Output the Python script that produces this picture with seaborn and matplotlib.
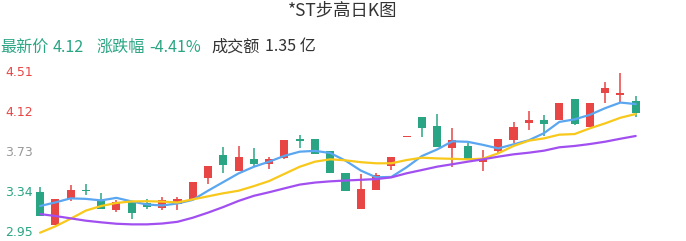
import matplotlib
matplotlib.use("Agg")
import matplotlib.pyplot as plt
import matplotlib.transforms as mtransforms
import numpy as np
import pandas as pd
import seaborn as sns

# ---- data ----
opens  = [3.34, 3.02, 3.27, 3.36, 3.25, 3.17, 3.24, 3.23, 3.19, 3.22,
          3.27, 3.48, 3.71, 3.55, 3.67, 3.62, 3.68, 3.86, 3.86, 3.74,
          3.53, 3.18, 3.36, 3.60, 3.88, 4.08, 3.99, 3.77, 3.79, 3.64,
          3.74, 3.85, 4.02, 4.05, 4.05, 4.25, 3.98, 4.31, 4.29, 4.24]
highs  = [3.39, 3.27, 3.41, 3.42, 3.33, 3.26, 3.24, 3.27, 3.29, 3.29,
          3.44, 3.60, 3.78, 3.79, 3.77, 3.69, 3.85, 3.90, 3.86, 3.74,
          3.53, 3.52, 3.53, 3.69, 3.89, 4.08, 4.11, 3.97, 3.82, 3.75,
          3.86, 4.03, 4.14, 4.10, 4.22, 4.25, 4.22, 4.42, 4.51, 4.28]
lows   = [3.11, 3.02, 3.25, 3.31, 3.18, 3.15, 3.08, 3.18, 3.17, 3.17,
          3.27, 3.42, 3.53, 3.55, 3.59, 3.57, 3.67, 3.77, 3.72, 3.53,
          3.35, 3.18, 3.36, 3.56, 3.88, 3.88, 3.78, 3.59, 3.67, 3.55,
          3.73, 3.82, 3.95, 3.89, 4.05, 4.00, 3.98, 4.22, 4.22, 4.08]
closes = [3.11, 3.27, 3.36, 3.35, 3.18, 3.24, 3.14, 3.20, 3.26, 3.27,
          3.44, 3.60, 3.61, 3.69, 3.62, 3.67, 3.85, 3.84, 3.72, 3.53,
          3.35, 3.37, 3.51, 3.69, 3.89, 3.97, 3.78, 3.85, 3.67, 3.68,
          3.86, 3.98, 4.05, 4.01, 4.22, 4.01, 4.22, 4.36, 4.31, 4.12]

ma_blue   = [3.205, 3.24, 3.28, 3.275, 3.26, 3.285, 3.25, 3.22, 3.21, 3.23,
             3.265, 3.355, 3.44, 3.525, 3.59, 3.64, 3.697, 3.738, 3.746, 3.725,
             3.65, 3.553, 3.487, 3.49, 3.585, 3.695, 3.76, 3.84, 3.835, 3.805,
             3.77, 3.81, 3.85, 3.92, 4.03, 4.055, 4.10, 4.165, 4.22, 4.205]
ma_yellow = [2.943, 3.005, 3.08, 3.16, 3.205, 3.235, 3.25, 3.252, 3.248, 3.24,
             3.27, 3.30, 3.33, 3.355, 3.40, 3.45, 3.52, 3.59, 3.64, 3.663,
             3.653, 3.635, 3.624, 3.624, 3.656, 3.679, 3.672, 3.668, 3.663, 3.669,
             3.722, 3.794, 3.846, 3.869, 3.905, 3.911, 3.967, 4.016, 4.071, 4.108]
ma_purple = [3.126, 3.107, 3.084, 3.061, 3.045, 3.031, 3.025, 3.025, 3.033, 3.05,
             3.09, 3.14, 3.195, 3.255, 3.305, 3.34, 3.378, 3.415, 3.435, 3.447,
             3.455, 3.462, 3.469, 3.486, 3.526, 3.558, 3.591, 3.615, 3.64, 3.663,
             3.689, 3.712, 3.728, 3.748, 3.781, 3.794, 3.813, 3.836, 3.865, 3.892]

tick_values = [4.51, 4.12, 3.73, 3.34, 2.95]
tick_labels = ["4.51", "4.12", "3.73", "3.34", "2.95"]

title = "*ST步高日K图"
header = [("最新价", "g"), ("4.12", "g"), ("涨跌幅", "g"), ("-4.41%", "g"),
          ("成交额", "k"), ("1.35 亿", "k")]

# ---- style ----
RED = "#e84545"
GREEN = "#2aa584"
GRAY = "#999999"
DARK = "#333333"
BLUE = "#5aa6f0"
YELLOW = "#f8c81a"
PURPLE = "#a14ff0"

sns.set_theme(style="white")
plt.rcParams["font.family"] = ["Noto Sans CJK SC", "DejaVu Sans"]

W, H = 686, 241
fig = plt.figure(figsize=(W / 100, H / 100), dpi=100)

ax = fig.add_axes([34 / W, 0, (W - 34) / W, (H - 60) / H])
ax.set_facecolor("white")
for s in ax.spines.values():
    s.set_visible(False)

n = len(closes)
idx = np.arange(n)
df = pd.DataFrame({"i": idx, "open": opens, "high": highs, "low": lows, "close": closes,
                   "ma5": ma_blue, "ma10": ma_yellow, "ma20": ma_purple})

ppu = (232 - 73) / (4.51 - 2.95)
y_bottom = 4.51 - (H - 73) / ppu
y_top = 4.51 + (73 - 60) / ppu
ax.set_ylim(y_bottom, y_top)
spacing = (635.7 - 40) / (n - 1)
ax.set_xlim(0 - (40 - 34) / spacing, (n - 1) + (W - 635.7) / spacing)

up = df["close"] >= df["open"]
colors = np.where(up, RED, GREEN)
body_low = np.minimum(df["open"], df["close"])
body_h = np.maximum(np.abs(df["close"] - df["open"]), 0.012)

ax.vlines(df["i"], df["low"], df["high"], colors=colors, linewidth=1.1, zorder=2)
ax.bar(df["i"], body_h, bottom=body_low, width=0.53, color=colors, linewidth=0, zorder=3)

sns.lineplot(data=df, x="i", y="ma5", ax=ax, color=BLUE, linewidth=1.6, zorder=4)
sns.lineplot(data=df, x="i", y="ma10", ax=ax, color=YELLOW, linewidth=1.6, zorder=4)
sns.lineplot(data=df, x="i", y="ma20", ax=ax, color=PURPLE, linewidth=1.6, zorder=4)

ax.set_xticks([])
ax.set_yticks([])
ax.set_xlabel("")
ax.set_ylabel("")

trans = mtransforms.blended_transform_factory(fig.transFigure, ax.transData)
tick_colors = [RED, RED, GRAY, GREEN, GREEN]
for v, lab, c in zip(tick_values, tick_labels, tick_colors):
    ax.text(5 / W, v, lab, transform=trans, ha="left", va="center",
            fontsize=9, color=c, family=["DejaVu Sans"], clip_on=False)

fig.text(343 / W, 1 - 11 / H, title, ha="center", va="center", fontsize=12.5, color=DARK)

xs = [0, 53, 96, 149, 211, 265]
for (txt, col), x in zip(header, xs):
    fig.text(x / W, 1 - 47 / H, txt, ha="left", va="center", fontsize=11.6,
             color=GREEN if col == "g" else DARK)

fig.savefig("out.png", dpi=100, facecolor="white")
